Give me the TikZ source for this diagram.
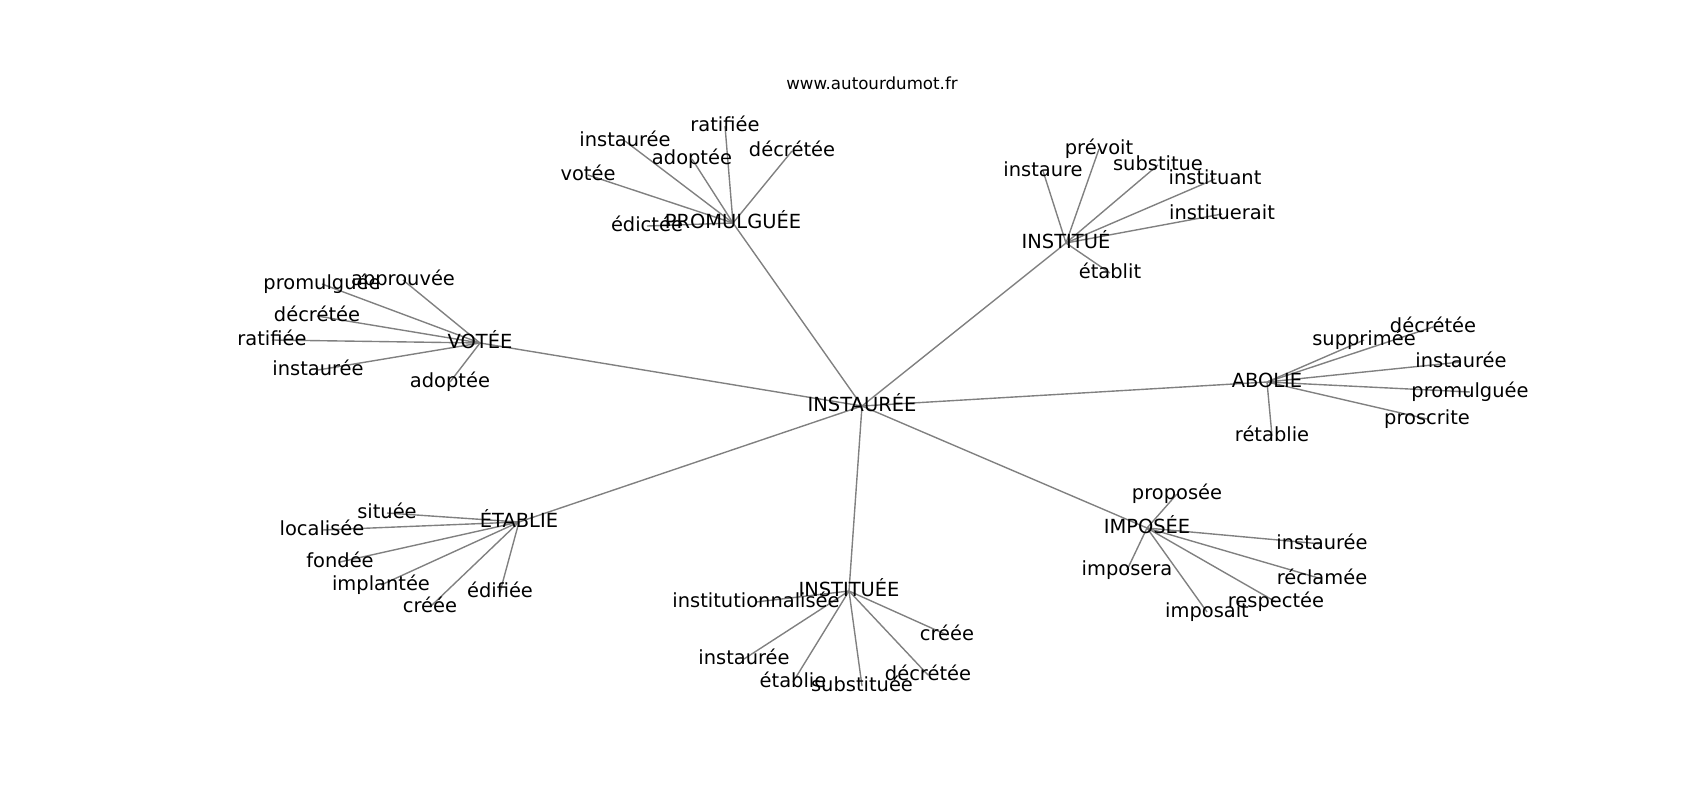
\documentclass[tikz,border=0pt]{standalone}
\usepackage{fontspec}
\setmainfont{DejaVu Sans}
\usetikzlibrary{backgrounds}
\tikzset{
  lbl/.style={font=\fontsize{14}{17}\selectfont, inner sep=0pt, text height=10.6pt, text depth=3.4pt, anchor=center},
  ttl/.style={font=\fontsize{12}{14}\selectfont, inner sep=0pt, anchor=base},
  edge/.style={draw=gray, line width=1pt}
}
\begin{document}
\begin{tikzpicture}[x=0.72pt, y=-0.72pt]
\useasboundingbox (0,0) rectangle (1700,800);
\node[ttl] (title) at (872,89) {www.autourdumot.fr};
% center and hubs
\node[lbl] (c) at (862,406) {INSTAURÉE};
\node[lbl] (prom) at (733,223) {PROMULGUÉE};
\node[lbl] (itu) at (1066,243) {INSTITUÉ};
\node[lbl] (vot) at (480,343) {VOTÉE};
\node[lbl] (abo) at (1267,382) {ABOLIE};
\node[lbl] (eta) at (519,522) {ÉTABLIE};
\node[lbl] (itue) at (849,591) {INSTITUÉE};
\node[lbl] (imp) at (1147,528) {IMPOSÉE};
% PROMULGUÉE leaves
\node[lbl] (p1) at (625,141) {instaurée};
\node[lbl] (p2) at (692,159) {adoptée};
\node[lbl] (p3) at (725,126) {ratifiée};
\node[lbl] (p4) at (792,151) {décrétée};
\node[lbl] (p5) at (588,175) {votée};
\node[lbl] (p6) at (647,226) {édictée};
% INSTITUÉ leaves
\node[lbl] (i1) at (1043,171) {instaure};
\node[lbl] (i2) at (1099,149) {prévoit};
\node[lbl] (i3) at (1158,165) {substitue};
\node[lbl] (i4) at (1215,179) {instituant};
\node[lbl] (i5) at (1222,214) {instituerait};
\node[lbl] (i6) at (1110,273) {établit};
% VOTÉE leaves
\node[lbl] (v1) at (403,280) {approuvée};
\node[lbl] (v2) at (322,284) {promulguée};
\node[lbl] (v3) at (317,316) {décrétée};
\node[lbl] (v4) at (272,340) {ratifiée};
\node[lbl] (v5) at (318,370) {instaurée};
\node[lbl] (v6) at (450,382) {adoptée};
% ABOLIE leaves
\node[lbl] (a1) at (1364,340) {supprimée};
\node[lbl] (a2) at (1433,327) {décrétée};
\node[lbl] (a3) at (1461,362) {instaurée};
\node[lbl] (a4) at (1470,392) {promulguée};
\node[lbl] (a5) at (1427,419) {proscrite};
\node[lbl] (a6) at (1272,436) {rétablie};
% ÉTABLIE leaves
\node[lbl] (e1) at (387,513) {située};
\node[lbl] (e2) at (322,530) {localisée};
\node[lbl] (e3) at (340,562) {fondée};
\node[lbl] (e4) at (381,585) {implantée};
\node[lbl] (e5) at (430,607) {créée};
\node[lbl] (e6) at (500,592) {édifiée};
% INSTITUÉE leaves
\node[lbl] (t1) at (756,602) {institutionnalisée};
\node[lbl] (t2) at (947,635) {créée};
\node[lbl] (t3) at (744,659) {instaurée};
\node[lbl] (t4) at (793,682) {établie};
\node[lbl] (t5) at (862,686) {substituée};
\node[lbl] (t6) at (928,675) {décrétée};
% IMPOSÉE leaves
\node[lbl] (m1) at (1177,494) {proposée};
\node[lbl] (m2) at (1322,544) {instaurée};
\node[lbl] (m3) at (1127,570) {imposera};
\node[lbl] (m4) at (1322,579) {réclamée};
\node[lbl] (m5) at (1276,602) {respectée};
\node[lbl] (m6) at (1207,612) {imposait};
\begin{scope}[on background layer]
\foreach \h in {prom,itu,vot,abo,eta,itue,imp}
  \draw[edge] (c.center) -- (\h.center);
\foreach \l in {p1,p2,p3,p4,p5,p6} \draw[edge] (prom.center) -- (\l.center);
\foreach \l in {i1,i2,i3,i4,i5,i6} \draw[edge] (itu.center) -- (\l.center);
\foreach \l in {v1,v2,v3,v4,v5,v6} \draw[edge] (vot.center) -- (\l.center);
\foreach \l in {a1,a2,a3,a4,a5,a6} \draw[edge] (abo.center) -- (\l.center);
\foreach \l in {e1,e2,e3,e4,e5,e6} \draw[edge] (eta.center) -- (\l.center);
\foreach \l in {t1,t2,t3,t4,t5,t6} \draw[edge] (itue.center) -- (\l.center);
\foreach \l in {m1,m2,m3,m4,m5,m6} \draw[edge] (imp.center) -- (\l.center);
\end{scope}
\end{tikzpicture}
\end{document}
